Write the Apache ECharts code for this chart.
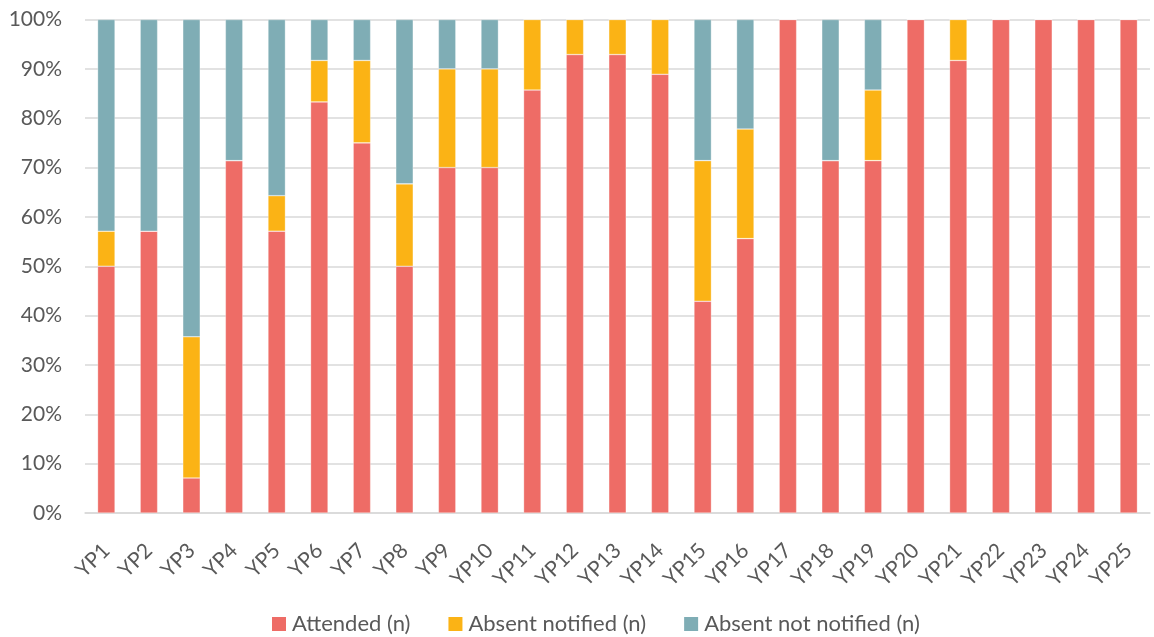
<!DOCTYPE html>
<html>
<head>
<meta charset="utf-8">
<script src="https://cdn.jsdelivr.net/npm/echarts@6/dist/echarts.min.js"></script>
<style>
  html, body { margin: 0; padding: 0; background: #fff; }
  #chart { width: 1154px; height: 637px; }
</style>
</head>
<body>
<div id="chart"></div>
<script>
// Session attendance per young person, as share of sessions (%)
const categories = ['YP1','YP2','YP3','YP4','YP5','YP6','YP7','YP8','YP9','YP10','YP11','YP12','YP13',
  'YP14','YP15','YP16','YP17','YP18','YP19','YP20','YP21','YP22','YP23','YP24','YP25'];
const attended = [50, 57.1, 7.1, 71.4, 57.1, 83.3, 75, 50, 70, 70, 85.7, 92.9, 92.9,
  88.9, 42.9, 55.6, 100, 71.4, 71.4, 100, 91.7, 100, 100, 100, 100];
const absentNotified = [7.1, 0, 28.6, 0, 7.2, 8.4, 16.7, 16.7, 20, 20, 14.3, 7.1, 7.1,
  11.1, 28.5, 22.2, 0, 0, 14.3, 0, 8.3, 0, 0, 0, 0];
const absentNotNotified = [42.9, 42.9, 64.3, 28.6, 35.7, 8.3, 8.3, 33.3, 10, 10, 0, 0, 0,
  0, 28.6, 22.2, 0, 28.6, 14.3, 0, 0, 0, 0, 0, 0];
const yTicks = [0, 10, 20, 30, 40, 50, 60, 70, 80, 90, 100];

const FONT = 'Lato, "Liberation Sans", sans-serif';
const TEXT = '#595959';

const chart = echarts.init(document.getElementById('chart'), null, { renderer: 'canvas' });

function barSeries(name, data, color) {
  return {
    name, type: 'bar', stack: 'total', data, barWidth: '41%',
    itemStyle: { color, borderColor: 'rgba(255,255,255,0.5)', borderWidth: 0.6 },
    emphasis: { disabled: true }
  };
}

chart.setOption({
  animation: false,
  textStyle: { fontFamily: FONT },
  grid: { left: 85, right: 4, top: 19.5, bottom: 124, containLabel: false },
  legend: {
    left: 267, top: 608,
    itemWidth: 14, itemHeight: 14, itemGap: 38, itemStyle: { borderWidth: 0 },
    icon: 'rect',
    textStyle: { fontFamily: FONT, fontSize: 22, color: TEXT, padding: [0, 0, 0, 1] },
    selectedMode: false
  },
  xAxis: {
    type: 'category', data: categories,
    axisLine: { lineStyle: { color: '#d9d9d9', width: 1.5 } },
    axisTick: { show: false },
    axisLabel: { rotate: 45, color: TEXT, fontSize: 21, fontFamily: FONT, margin: 34, interval: 0 }
  },
  yAxis: {
    type: 'value', min: yTicks[0], max: yTicks[yTicks.length - 1], interval: 10,
    axisLine: { show: false }, axisTick: { show: false },
    splitLine: { lineStyle: { color: '#d9d9d9', width: 1.5 } },
    axisLabel: { formatter: v => v + '%', color: TEXT, fontSize: 21, fontFamily: FONT, margin: 23 }
  },
  series: [
    barSeries('Attended (n)', attended, '#EE6C66'),
    barSeries('Absent notified (n)', absentNotified, '#FBB315'),
    barSeries('Absent not notified (n)', absentNotNotified, '#7FADB5')
  ]
});
</script>
</body>
</html>
